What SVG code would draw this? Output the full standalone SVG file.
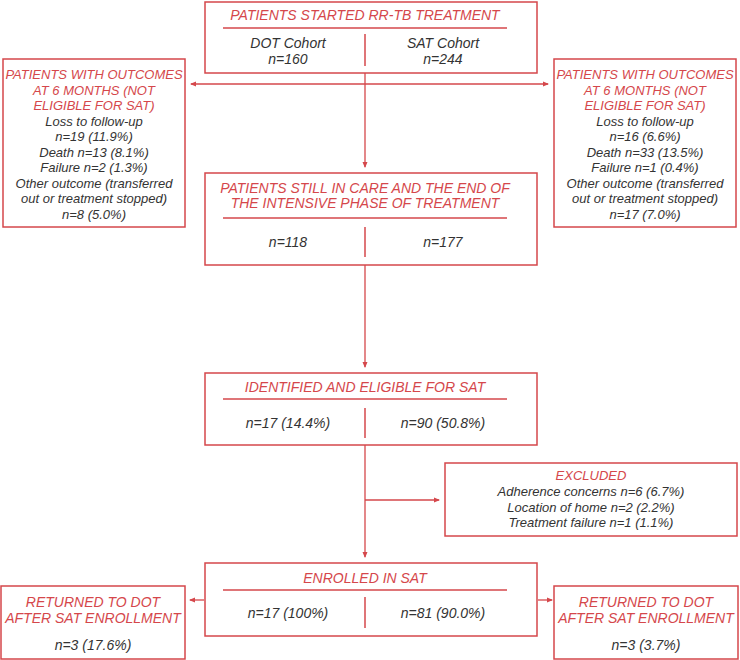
<svg xmlns="http://www.w3.org/2000/svg" width="740" height="660" viewBox="0 0 740 660">
<defs>
<marker id="ah" markerWidth="6" markerHeight="6" refX="5" refY="3" orient="auto" markerUnits="userSpaceOnUse">
<path d="M0,0.5 L6,3 L0,5.5 Z" fill="#d5474b"/>
</marker>
<style>
.box{fill:#fff;stroke:#d5474b;stroke-width:1.5}
.ln{stroke:#d5474b;stroke-width:1.5;fill:none}
.t{font-family:"Liberation Sans",Arial,sans-serif;font-style:italic;font-size:13px;fill:#d5474b;text-anchor:middle}
.b{font-family:"Liberation Sans",Arial,sans-serif;font-style:italic;font-size:13px;fill:#333;text-anchor:middle}
.m{font-size:14px}
.c{stroke:#d5474b;stroke-width:1.3;fill:none}
</style>
</defs>
<rect width="740" height="660" fill="#fff"/>
<g id="connectors">
<line class="c" x1="365" y1="73" x2="365" y2="167" marker-end="url(#ah)"/>
<line class="c" x1="365" y1="84" x2="191" y2="84" marker-end="url(#ah)"/>
<line class="c" x1="365" y1="84" x2="548" y2="84" marker-end="url(#ah)"/>
<line class="c" x1="365" y1="265" x2="365" y2="367" marker-end="url(#ah)"/>
<line class="c" x1="365" y1="445" x2="365" y2="557" marker-end="url(#ah)"/>
<line class="c" x1="365" y1="500" x2="439" y2="500" marker-end="url(#ah)"/>
<line class="c" x1="204" y1="600" x2="190" y2="600" marker-end="url(#ah)"/>
<line class="c" x1="538" y1="600" x2="552" y2="600" marker-end="url(#ah)"/>
</g>
<g id="started">
<rect class="box" x="205" y="2" width="332" height="71"/>
<text class="t m" x="365" y="20">PATIENTS STARTED RR-TB TREATMENT</text>
<line class="ln" x1="223" y1="28" x2="507" y2="28"/>
<line class="ln" x1="365" y1="34" x2="365" y2="66"/>
<text class="b m" x="288" y="48">DOT Cohort</text>
<text class="b m" x="288" y="64">n=160</text>
<text class="b m" x="443" y="48">SAT Cohort</text>
<text class="b m" x="443" y="64">n=244</text>
</g>
<g id="outcomes-dot">
<rect class="box" x="3" y="59" width="182" height="168"/>
<text class="t" x="94" y="79">PATIENTS WITH OUTCOMES</text>
<text class="t" x="94" y="95">AT 6 MONTHS (NOT</text>
<text class="t" x="94" y="110">ELIGIBLE FOR SAT)</text>
<text class="b" x="94" y="126">Loss to follow-up</text>
<text class="b" x="94" y="141">n=19 (11.9%)</text>
<text class="b" x="94" y="157">Death n=13 (8.1%)</text>
<text class="b" x="94" y="172">Failure n=2 (1.3%)</text>
<text class="b" x="94" y="188">Other outcome (transferred</text>
<text class="b" x="94" y="203">out or treatment stopped)</text>
<text class="b" x="94" y="219">n=8 (5.0%)</text>
</g>
<g id="outcomes-sat">
<rect class="box" x="554" y="59" width="182" height="168"/>
<text class="t" x="645" y="79">PATIENTS WITH OUTCOMES</text>
<text class="t" x="645" y="95">AT 6 MONTHS (NOT</text>
<text class="t" x="645" y="110">ELIGIBLE FOR SAT)</text>
<text class="b" x="645" y="126">Loss to follow-up</text>
<text class="b" x="645" y="141">n=16 (6.6%)</text>
<text class="b" x="645" y="157">Death n=33 (13.5%)</text>
<text class="b" x="645" y="172">Failure n=1 (0.4%)</text>
<text class="b" x="645" y="188">Other outcome (transferred</text>
<text class="b" x="645" y="203">out or treatment stopped)</text>
<text class="b" x="645" y="219">n=17 (7.0%)</text>
</g>
<g id="still-in-care">
<rect class="box" x="205" y="173" width="332" height="92"/>
<text class="t m" x="365" y="193">PATIENTS STILL IN CARE AND THE END OF</text>
<text class="t m" x="365" y="208">THE INTENSIVE PHASE OF TREATMENT</text>
<line class="ln" x1="223" y1="218" x2="507" y2="218"/>
<line class="ln" x1="365" y1="227" x2="365" y2="257"/>
<text class="b m" x="288" y="247">n=118</text>
<text class="b m" x="443" y="247">n=177</text>
</g>
<g id="eligible">
<rect class="box" x="205" y="373" width="332" height="72"/>
<text class="t m" x="365" y="392">IDENTIFIED AND ELIGIBLE FOR SAT</text>
<line class="ln" x1="223" y1="399" x2="507" y2="399"/>
<line class="ln" x1="365" y1="408" x2="365" y2="438"/>
<text class="b m" x="288" y="428">n=17 (14.4%)</text>
<text class="b m" x="443" y="428">n=90 (50.8%)</text>
</g>
<g id="excluded">
<rect class="box" x="445" y="463" width="292" height="73"/>
<text class="t" x="591" y="480">EXCLUDED</text>
<text class="b" x="591" y="496">Adherence concerns n=6 (6.7%)</text>
<text class="b" x="591" y="512">Location of home n=2 (2.2%)</text>
<text class="b" x="591" y="527">Treatment failure n=1 (1.1%)</text>
</g>
<g id="enrolled">
<rect class="box" x="205" y="563" width="332" height="73"/>
<text class="t m" x="365" y="583">ENROLLED IN SAT</text>
<line class="ln" x1="223" y1="590" x2="507" y2="590"/>
<line class="ln" x1="365" y1="597" x2="365" y2="628"/>
<text class="b m" x="288" y="618">n=17 (100%)</text>
<text class="b m" x="443" y="618">n=81 (90.0%)</text>
</g>
<g id="returned-dot">
<rect class="box" x="1" y="586" width="184" height="73"/>
<text class="t m" x="93" y="607">RETURNED TO DOT</text>
<text class="t m" x="93" y="623">AFTER SAT ENROLLMENT</text>
<text class="b m" x="93" y="650">n=3 (17.6%)</text>
</g>
<g id="returned-sat">
<rect class="box" x="554" y="586" width="184" height="73"/>
<text class="t m" x="646" y="607">RETURNED TO DOT</text>
<text class="t m" x="646" y="623">AFTER SAT ENROLLMENT</text>
<text class="b m" x="646" y="650">n=3 (3.7%)</text>
</g>
</svg>
